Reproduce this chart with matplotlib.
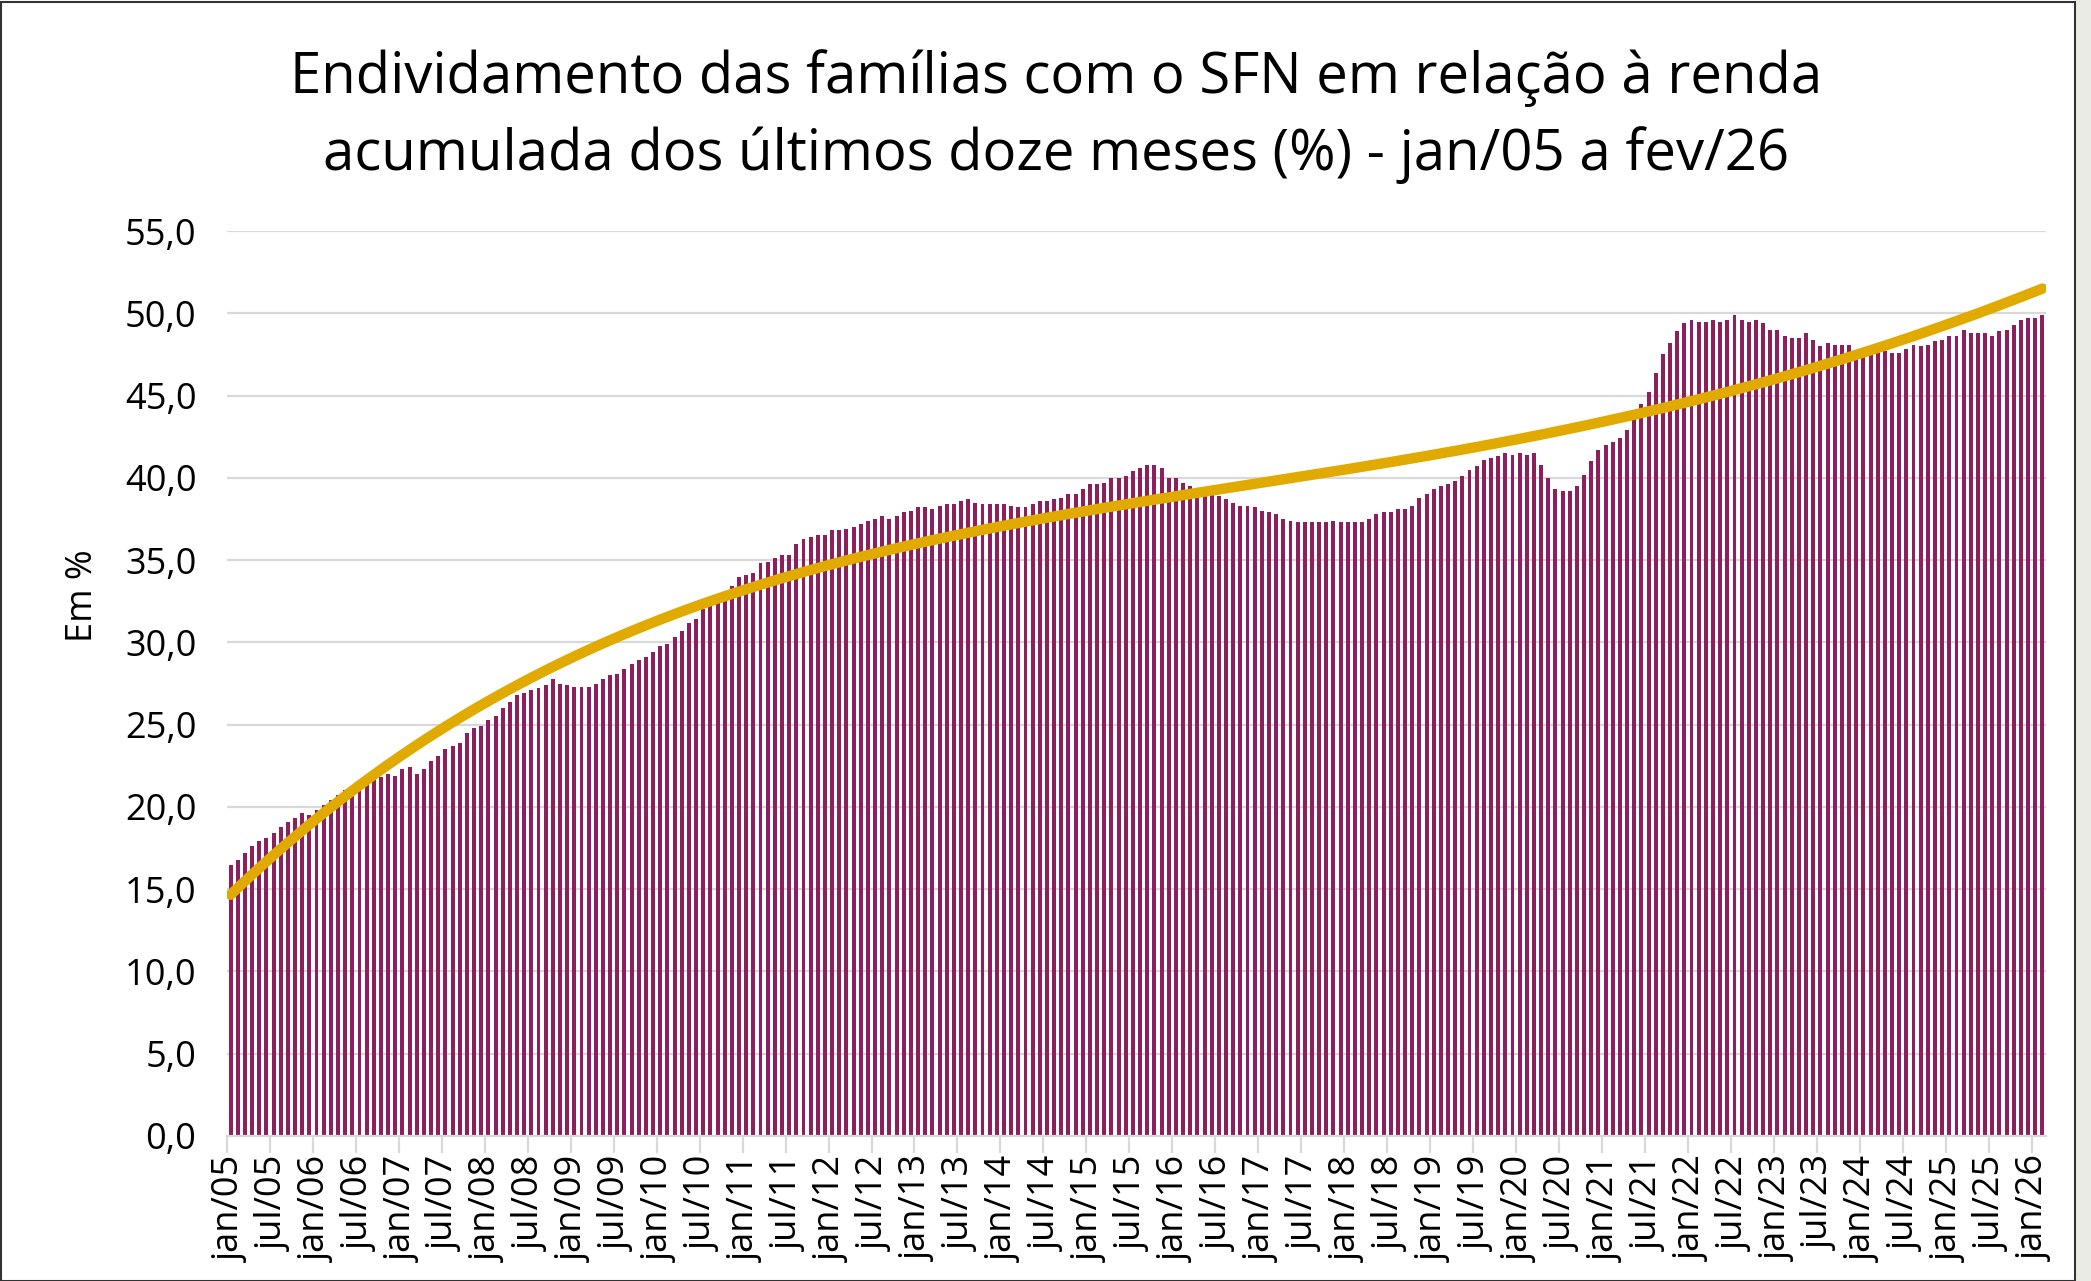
import matplotlib
matplotlib.use("Agg")
import matplotlib.pyplot as plt
import matplotlib.patches as patches
from matplotlib.ticker import FuncFormatter, FixedLocator
import numpy as np

plt.rcParams['font.family'] = ['Open Sans', 'DejaVu Sans']

# endividamento (% da renda acumulada em 12 meses), jan/05 .. fev/26
valores = [
    # 2005 - meados 2008
    16.5, 16.8, 17.2, 17.6, 17.9, 18.1, 18.4, 18.8, 19.1, 19.3, 19.6, 19.5,
    19.8, 20.1, 20.4, 20.7, 21.0, 21.1, 21.2, 21.4, 21.7, 21.8, 22.0, 21.9,
    22.3, 22.4, 22.0, 22.3, 22.8, 23.1, 23.5, 23.7, 23.9, 24.5, 24.8, 24.9,
    25.3, 25.5, 26.0, 26.4, 26.8, 26.9,
    # jul/08 - dez/11
    27.1, 27.2, 27.4, 27.8, 27.5, 27.4, 27.3, 27.3, 27.3, 27.5, 27.8, 28.0,
    28.1, 28.4, 28.7, 28.9, 29.1, 29.4, 29.8, 29.9, 30.3, 30.7, 31.2, 31.4,
    32.0, 32.3, 32.4, 32.6, 33.4, 34.0, 34.1, 34.2, 34.8, 34.9, 35.1, 35.3,
    35.3, 36.0, 36.3, 36.4, 36.5, 36.5,
    # jan/12 - jun/15
    36.8, 36.8, 36.9, 37.0, 37.2, 37.4, 37.5, 37.7, 37.5, 37.7, 37.9, 38.0,
    38.2, 38.2, 38.1, 38.3, 38.4, 38.4, 38.6, 38.7, 38.5, 38.4, 38.4, 38.4,
    38.4, 38.3, 38.2, 38.2, 38.4, 38.6, 38.6, 38.7, 38.8, 39.0, 39.0, 39.3,
    39.6, 39.6, 39.7, 40.0, 40.0, 40.1,
    # jul/15 - dez/18
    40.4, 40.6, 40.8, 40.8, 40.6, 40.0, 40.0, 39.7, 39.5, 39.1, 39.0, 39.0,
    38.9, 38.7, 38.5, 38.3, 38.3, 38.2, 38.0, 37.9, 37.8, 37.5, 37.4, 37.3,
    37.3, 37.3, 37.3, 37.3, 37.4, 37.3, 37.3, 37.3, 37.3, 37.5, 37.8, 37.9,
    37.9, 38.1, 38.1, 38.3, 38.8, 39.0,
    # jan/19 - jun/22
    39.3, 39.5, 39.6, 39.8, 40.1, 40.5, 40.7, 41.1, 41.2, 41.3, 41.5, 41.4,
    41.5, 41.4, 41.5, 40.8, 40.0, 39.3, 39.2, 39.2, 39.5, 40.2, 41.0, 41.7,
    42.0, 42.2, 42.4, 42.9, 43.6, 44.5, 45.2, 46.4, 47.5, 48.2, 48.9, 49.4,
    49.6, 49.5, 49.5, 49.6, 49.5, 49.6,
    # jul/22 - fev/26
    49.9, 49.6, 49.5, 49.6, 49.4, 49.0, 49.0, 48.6, 48.5, 48.5, 48.8, 48.4,
    48.0, 48.2, 48.1, 48.1, 48.1, 47.6, 47.6, 47.6, 47.7, 47.7, 47.6, 47.6,
    47.8, 48.1, 48.0, 48.1, 48.3, 48.4, 48.6, 48.6, 49.0, 48.8, 48.8, 48.8,
    48.6, 48.9, 49.0, 49.3, 49.6, 49.7, 49.7, 49.9,
]

meses = ['jan', 'fev', 'mar', 'abr', 'mai', 'jun',
         'jul', 'ago', 'set', 'out', 'nov', 'dez']
rotulos = [f"{meses[i % 12]}/{(5 + i // 12):02d}" for i in range(len(valores))]

titulo = ("Endividamento das famílias com o SFN em relação à renda\n"
          "acumulada dos últimos doze meses (%) - jan/05 a fev/26")

cor_barra = '#8E1F5E'
cor_tend = '#E0AA00'

W, H = 2091, 1281
fig = plt.figure(figsize=(W / 100, H / 100), dpi=100)
ax = fig.add_axes([227 / W, 1 - 1136 / H, (2046 - 227) / W, (1136 - 231) / H])

x = np.arange(len(valores))
y = np.array(valores)
ax.bar(x, y, width=0.55, color=cor_barra, zorder=2)

# linha de tendência polinomial de ordem 4 (como no Excel)
coef = np.polyfit(x + 1, y, 4)
ax.plot(x, np.polyval(coef, x + 1), color=cor_tend, lw=7.5,
        solid_capstyle='round', zorder=3)

ax.set_xlim(-0.5, len(valores) - 0.5)
ax.set_ylim(0, 55)
ax.set_yticks(np.arange(0, 56, 5))
ax.yaxis.set_major_formatter(FuncFormatter(lambda v, p: f"{v:.1f}".replace('.', ',')))
ax.grid(axis='y', color='#d9d9d9', lw=1.6, zorder=0)
ax.set_axisbelow(True)

pos = list(range(0, len(valores), 6))
ax.set_xticks(pos)
ax.set_xticklabels([rotulos[i] for i in pos], rotation=90, fontsize=26)
ax.tick_params(axis='x', length=0, pad=14)
ax.xaxis.set_minor_locator(FixedLocator([p - 0.5 for p in pos]))
ax.tick_params(axis='x', which='minor', length=12, width=1.6, color='#d9d9d9')
ax.tick_params(axis='y', length=0, labelsize=26, pad=22)

for s in ['top', 'right', 'left']:
    ax.spines[s].set_visible(False)
ax.spines['bottom'].set_color('#d9d9d9')
ax.spines['bottom'].set_linewidth(1.6)

ax.set_ylabel('Em %', fontsize=26)
ax.yaxis.set_label_coords(-0.069, 0.597)

fig.text(0.505, 0.909, titulo, ha='center', va='center', fontsize=40.5,
         linespacing=1.45)

# moldura e fundo fora do gráfico
fig.patches.append(patches.Rectangle((2075 / W, 0), 1 - 2075 / W, 1,
                                     transform=fig.transFigure,
                                     color='#ebebe6', zorder=-1))
fig.patches.append(patches.Rectangle((1 / W, 0), 2074 / W, 1 - 2 / H,
                                     transform=fig.transFigure, fill=False,
                                     edgecolor='#333333', lw=1.5))

fig.savefig('out.png', dpi=100)
